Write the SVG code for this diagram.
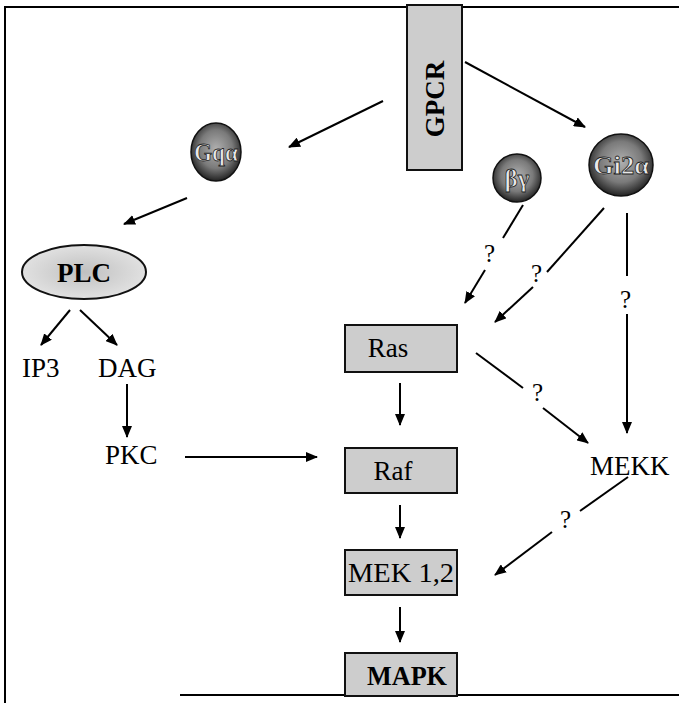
<svg xmlns="http://www.w3.org/2000/svg" width="679" height="703" viewBox="0 0 679 703">
<defs>
<marker id="ah" viewBox="0 0 12 10" refX="11" refY="5" markerWidth="12" markerHeight="10" markerUnits="userSpaceOnUse" orient="auto">
<path d="M0,0 L12,5 L0,10 Z" fill="#000"/>
</marker>
<radialGradient id="dark" cx="50%" cy="45%" r="55%">
<stop offset="0" stop-color="#b0b0b0"/>
<stop offset="0.6" stop-color="#7a7a7a"/>
<stop offset="1" stop-color="#222"/>
</radialGradient>
<radialGradient id="plcg" cx="50%" cy="50%" r="55%">
<stop offset="0" stop-color="#c0c0c0"/>
<stop offset="1" stop-color="#e4e4e4"/>
</radialGradient>
</defs>
<style>
.t{font-family:"Liberation Serif","Times New Roman",serif;font-size:27px;fill:#000}
.q{font-family:"Liberation Serif","Times New Roman",serif;font-size:25px;fill:#000}
.box{fill:#cdcdcd;stroke:#111;stroke-width:2}
.ball{fill:url(#dark);stroke:#111;stroke-width:1.5}
.bt{font-family:"Liberation Serif","Times New Roman",serif;font-size:25px;font-weight:bold;fill:#e8e8e8;stroke:#222;stroke-width:0.8}
.ln{stroke:#000;stroke-width:2;fill:none}
.ar{stroke:#000;stroke-width:2;fill:none;marker-end:url(#ah)}
.fr{stroke:#000;stroke-width:2;fill:none}
</style>
<rect width="679" height="703" fill="#fff"/>
<g id="frame">
<path class="fr" d="M5,703 V7 H679"/>
<path class="fr" d="M180,695 H679"/>
</g>
<g id="GPCR">
<rect class="box" x="407" y="5" width="55" height="165" fill="#c4c4c4"/>
<text class="t" font-weight="bold" font-size="29" transform="translate(444,99) rotate(-90)" text-anchor="middle">GPCR</text>
</g>
<g id="Gq">
<ellipse class="ball" cx="216" cy="152" rx="25" ry="29"/>
<text class="bt" x="216" y="161" text-anchor="middle" textLength="44" lengthAdjust="spacingAndGlyphs">Gqα</text>
</g>
<g id="bg">
<ellipse class="ball" cx="517" cy="178" rx="24" ry="24"/>
<text class="bt" x="517" y="187" text-anchor="middle">βγ</text>
</g>
<g id="Gi2">
<ellipse class="ball" cx="621" cy="165" rx="32" ry="31"/>
<text class="bt" x="621" y="174" text-anchor="middle" textLength="56" lengthAdjust="spacingAndGlyphs">Gi2α</text>
</g>
<g id="PLC">
<ellipse cx="84" cy="272" rx="62" ry="27" fill="url(#plcg)" stroke="#111" stroke-width="2"/>
<text class="t" font-weight="bold" x="84" y="282" text-anchor="middle">PLC</text>
</g>
<g id="IP3"><text class="t" x="22" y="377">IP3</text></g>
<g id="DAG"><text class="t" x="98" y="377">DAG</text></g>
<g id="PKC"><text class="t" x="105" y="464">PKC</text></g>
<g id="MEKK"><text class="t" x="590" y="475">MEKK</text></g>
<g id="Ras">
<rect class="box" x="345" y="325" width="112" height="47"/>
<text class="t" x="388" y="357" text-anchor="middle">Ras</text>
</g>
<g id="Raf">
<rect class="box" x="345" y="448" width="112" height="45"/>
<text class="t" x="393" y="480" text-anchor="middle">Raf</text>
</g>
<g id="MEK">
<rect class="box" x="345" y="550" width="112" height="45"/>
<text class="t" x="401" y="582" text-anchor="middle" textLength="106" lengthAdjust="spacingAndGlyphs">MEK 1,2</text>
</g>
<g id="MAPK">
<rect class="box" x="345" y="653" width="112" height="43"/>
<text class="t" font-weight="bold" x="407" y="685" text-anchor="middle" textLength="80" lengthAdjust="spacingAndGlyphs">MAPK</text>
</g>
<g id="connectors">
<line class="ar" x1="383" y1="101" x2="289" y2="147"/>
<line class="ar" x1="465" y1="62" x2="585" y2="127"/>
<line class="ar" x1="187" y1="198" x2="124" y2="224"/>
<line class="ar" x1="70" y1="310" x2="41" y2="345"/>
<line class="ar" x1="80" y1="310" x2="117" y2="345"/>
<line class="ar" x1="127" y1="384" x2="127" y2="437"/>
<line class="ar" x1="185" y1="457" x2="317" y2="457"/>
<line class="ln" x1="523" y1="205" x2="503" y2="238"/>
<text class="q" x="484" y="262">?</text>
<line class="ar" x1="485" y1="270" x2="465" y2="303"/>
<line class="ln" x1="604" y1="208" x2="547" y2="272"/>
<text class="q" x="531" y="282">?</text>
<line class="ar" x1="533" y1="287" x2="495" y2="322"/>
<line class="ln" x1="627" y1="213" x2="627" y2="276"/>
<text class="q" x="620" y="308">?</text>
<line class="ar" x1="627" y1="314" x2="627" y2="433"/>
<line class="ln" x1="476" y1="353" x2="523" y2="388"/>
<text class="q" x="532" y="401">?</text>
<line class="ar" x1="543" y1="408" x2="588" y2="443"/>
<line class="ar" x1="400" y1="383" x2="400" y2="425"/>
<line class="ar" x1="400" y1="505" x2="400" y2="538"/>
<line class="ar" x1="400" y1="607" x2="400" y2="642"/>
<line class="ln" x1="628" y1="477" x2="580" y2="511"/>
<text class="q" x="560" y="528">?</text>
<line class="ar" x1="552" y1="532" x2="495" y2="575"/>
</g>
</svg>
